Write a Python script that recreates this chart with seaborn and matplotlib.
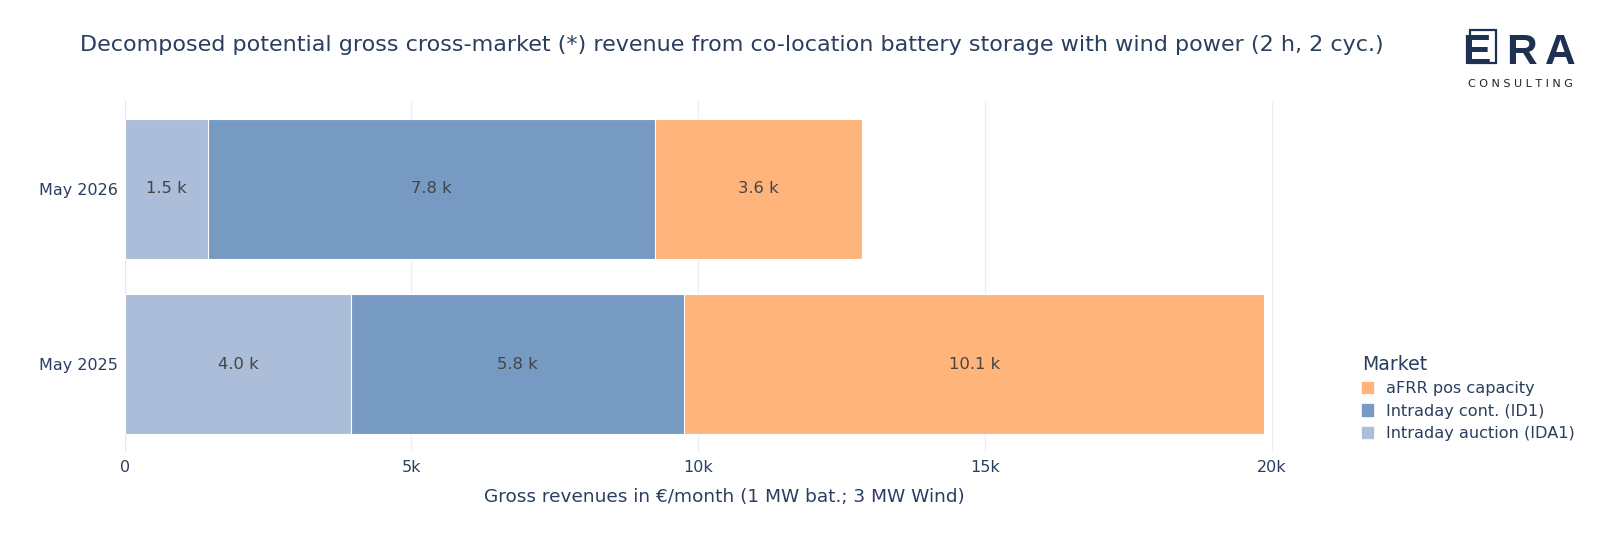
import numpy as np
import pandas as pd
import matplotlib.pyplot as plt
import seaborn as sns
from matplotlib.patches import Rectangle

# Data (values in EUR/month)
periods = ["May 2026", "May 2025"]
markets = ["Intraday auction (IDA1)", "Intraday cont. (ID1)", "aFRR pos capacity"]
ida1 = [1450, 3950]
id1 = [7790, 5810]
afrr = [3610, 10110]
labels = {"Intraday auction (IDA1)": ["1.5 k", "4.0 k"],
          "Intraday cont. (ID1)": ["7.8 k", "5.8 k"],
          "aFRR pos capacity": ["3.6 k", "10.1 k"]}
colors = {"Intraday auction (IDA1)": "#abbdd9",
          "Intraday cont. (ID1)": "#779ac2",
          "aFRR pos capacity": "#feb47a"}
xticks = [0, 5000, 10000, 15000, 20000]
xticklabels = ["0", "5k", "10k", "15k", "20k"]

navy = "#2a3f5f"

df = pd.DataFrame({"period": periods, markets[0]: ida1, markets[1]: id1, markets[2]: afrr})
cum = df[markets].cumsum(axis=1)

sns.set_style("white")
plt.rcParams['font.family'] = ['DejaVu Sans']

fig = plt.figure(figsize=(16, 5.33), dpi=100)
ax = fig.add_axes([0.078, 0.152, 0.749, 0.658])

# draw stacked bars by layering cumulative totals, largest first
for m in reversed(markets):
    sns.barplot(x=cum[m], y=df["period"], order=periods, color=colors[m], orient="h",
                width=0.8, saturation=1, edgecolor="white", linewidth=0.8, ax=ax,
                label=m, zorder=3)

# segment labels
for m in markets:
    starts = cum[m] - df[m]
    for i in range(len(periods)):
        ax.text(starts[i] + df[m][i] / 2, i, labels[m][i], ha="center", va="center",
                fontsize=11.8, color="#444444", zorder=5)

ax.set_xlim(0, 20900)
ax.set_ylim(1.5, -0.5)
ax.set_xticks(xticks)
ax.set_xticklabels(xticklabels)
ax.grid(axis="x", color="#ebf0f8", linewidth=1, zorder=0)
ax.axvline(0, color="#e0e6f0", linewidth=1.5, zorder=1)
for s in ax.spines.values():
    s.set_visible(False)
ax.tick_params(axis="both", length=0, labelsize=11.5, labelcolor=navy)
ax.tick_params(axis="x", pad=6)
ax.tick_params(axis="y", pad=5)
ax.set_ylabel("")
ax.set_xlabel("Gross revenues in €/month (1 MW bat.; 3 MW Wind)", fontsize=13.3, color=navy, labelpad=9)

# legend
handles = [Rectangle((0, 0), 1, 1, color=colors[m]) for m in reversed(markets)]
leg = ax.legend(handles, list(reversed(markets)), title="Market", loc="lower left",
                bbox_to_anchor=(1.02, -0.01), frameon=False, fontsize=11.6, title_fontsize=13.6,
                handlelength=0.7, handleheight=0.7, handletextpad=0.8, labelspacing=0.45)
for t in leg.get_texts():
    t.set_color(navy)
leg.get_title().set_color(navy)
leg._legend_box.align = "left"

fig.text(0.05, 0.915, "Decomposed potential gross cross-market (*) revenue from co-location battery storage with wind power (2 h, 2 cyc.)",
         fontsize=16, color=navy, va="center")

# logo
logo = "#1f3152"
fig.patches.append(Rectangle((0.9188, 0.8818), 0.0162, 0.0619, transform=fig.transFigure,
                             fill=False, edgecolor=logo, linewidth=1.6, zorder=1))
for letter, xc in zip(["E", "R", "A"], [0.9225, 0.951, 0.975]):
    fig.text(xc, 0.9015, letter, fontsize=30.6, fontweight="bold", color=logo,
             family="Liberation Sans", ha="center", va="center", zorder=2)
fig.text(0.95, 0.842, "C O N S U L T I N G", fontsize=8, color="#222222", ha="center", va="center")

plt.savefig("out.png", dpi=100)
